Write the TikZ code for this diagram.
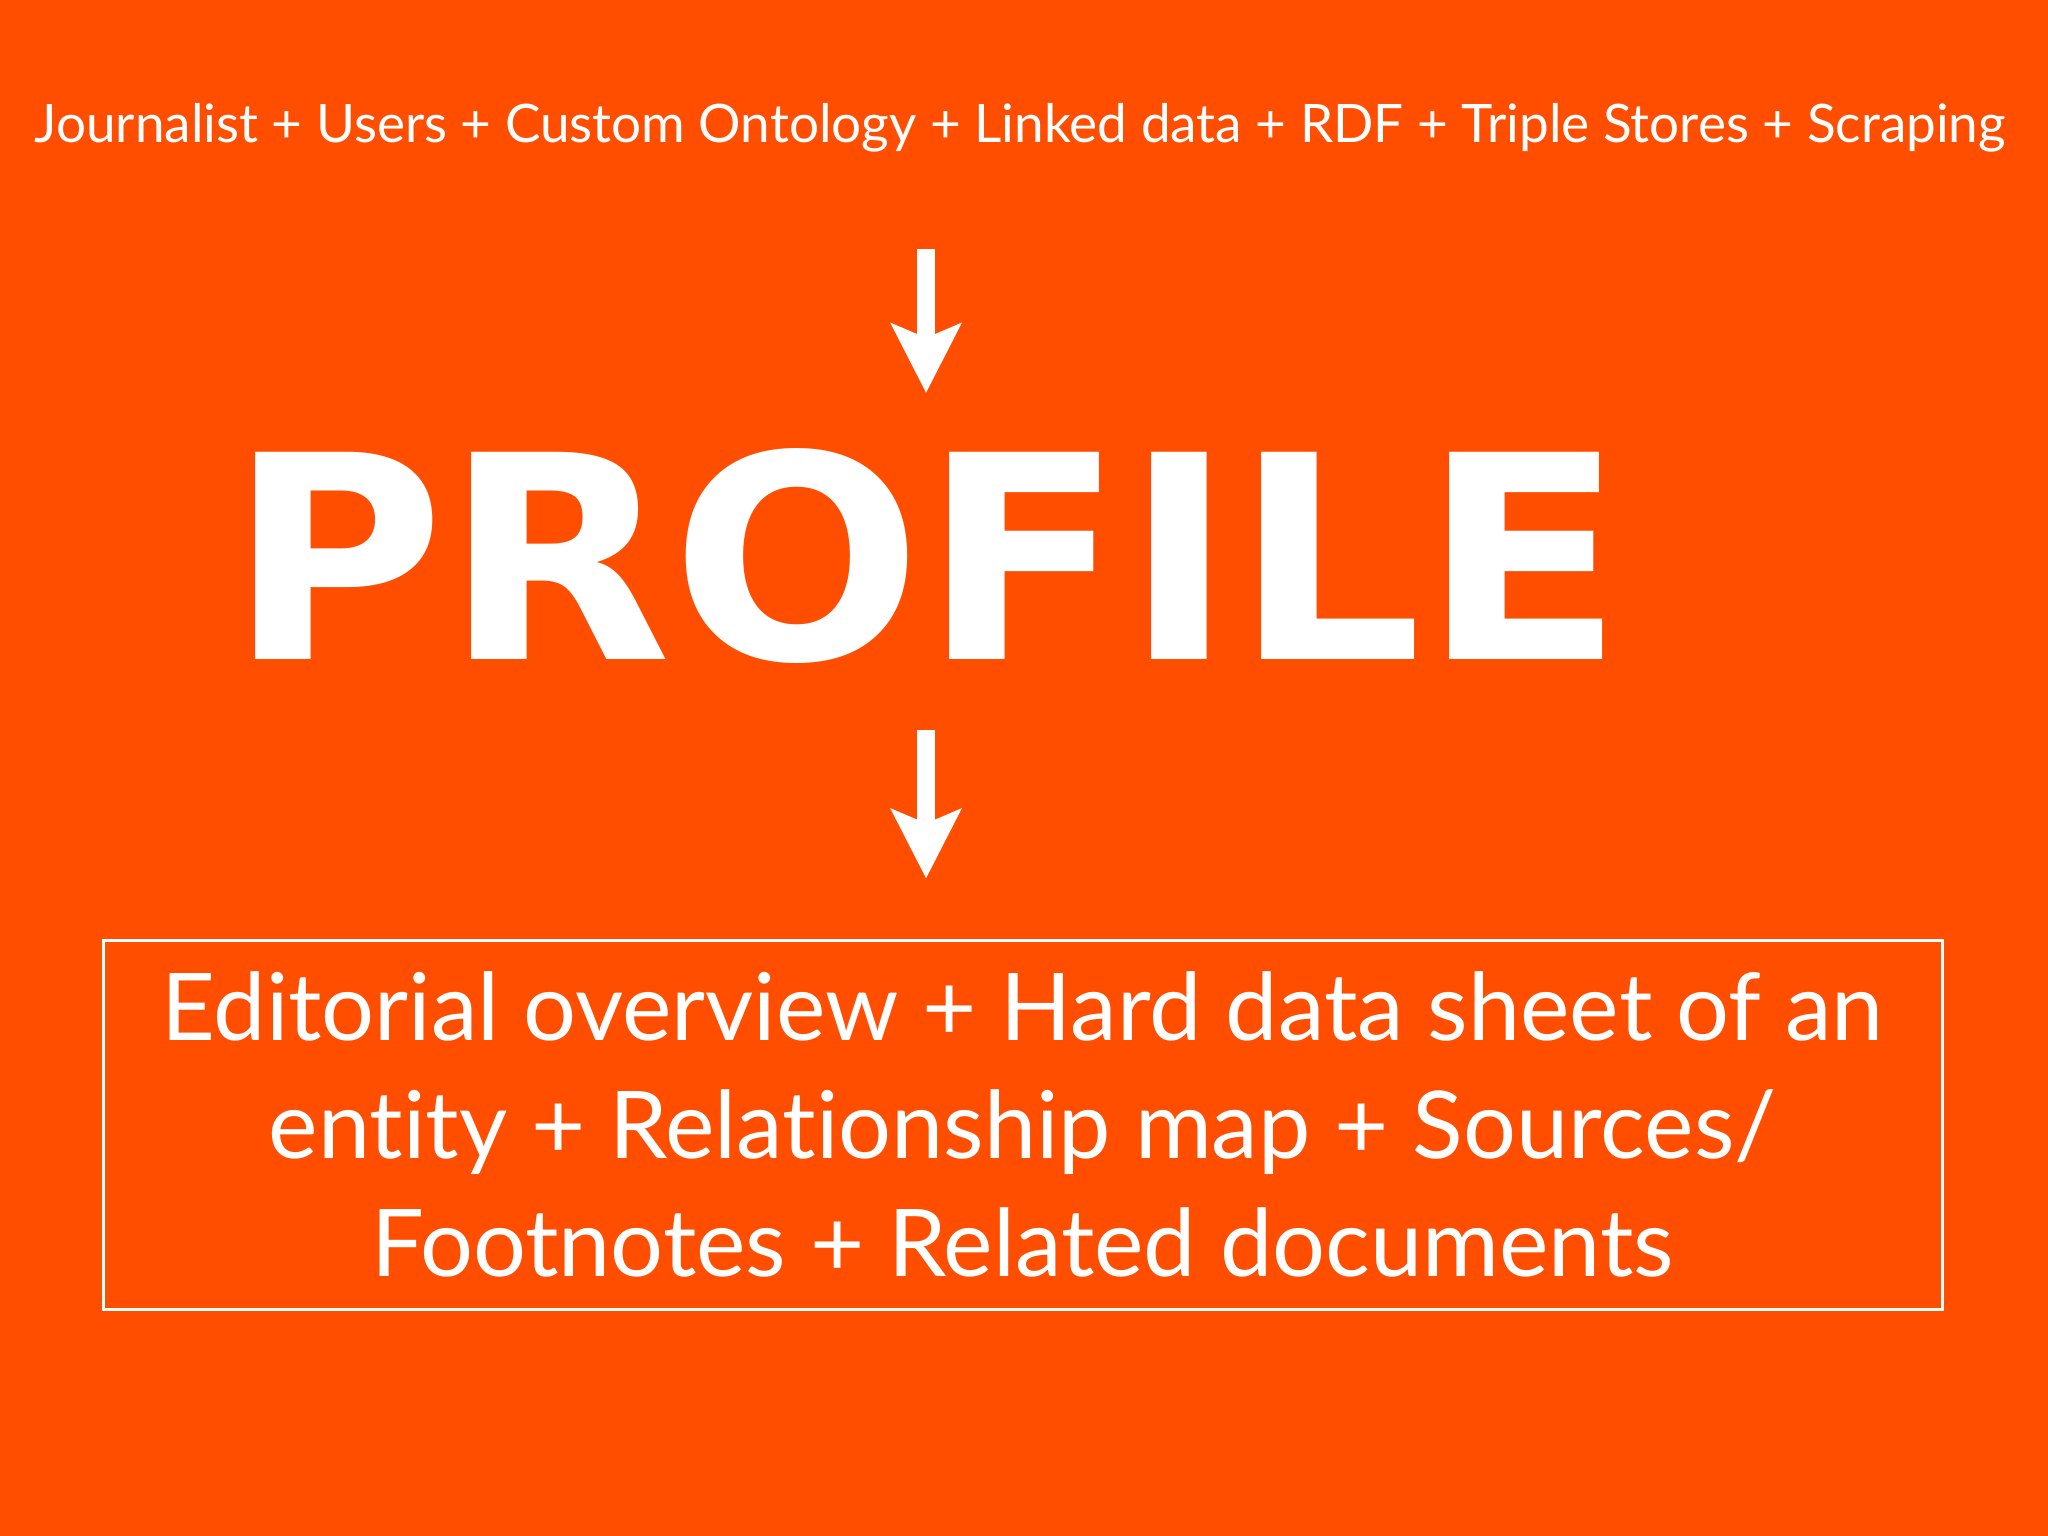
\documentclass[tikz,border=0pt]{standalone}
\usepackage{fontspec}
\setmainfont{Lato}[Ligatures=NoCommon]
\newfontfamily\heavyfont{DejaVu Sans}
\usepackage{graphicx}
\usetikzlibrary{arrows.meta,calc}
\definecolor{slideorange}{HTML}{FF4E00}

\begin{document}
\begin{tikzpicture}[blockarrow/.style={draw=white, line width=1.8mm, -{Stealth[length=6.9mm, width=6.9mm, inset=1.4mm]}},
    whitetext/.style={text=white, inner sep=0, outer sep=0}]
  \fill[slideorange] (0,0) rectangle (20.48,-15.36);
  \node [whitetext, anchor=base, font=\fontsize{15.1}{18}\selectfont] (src) at (10.20,-1.43)
    {Journalist + Users + Custom Ontology + Linked data + RDF + Triple Stores + Scraping};
  \node [whitetext, anchor=south west] (profile) at (2.28,-6.64)
    {\resizebox{13.96cm}{2.11cm}{\heavyfont\bfseries PROFILE}};
  \node [draw=white, line width=0.3mm, text=white, minimum width=18.39cm, minimum height=3.69cm,
    align=center, font=\fontsize{26.6}{33.5}\selectfont] (sheet) at (10.225,-11.245)
    {Editorial overview + Hard data sheet of an\\ entity + Relationship map + Sources/\\ Footnotes + Related documents};
  \path
  (src.south -| profile.north) edge [blockarrow, shorten <=9.6mm, shorten >=5.6mm] (profile.north)
  (profile.south) edge [blockarrow, shorten <=6.6mm, shorten >=6mm] (sheet.north -| profile.south)
  ;
\end{tikzpicture}
\end{document}
